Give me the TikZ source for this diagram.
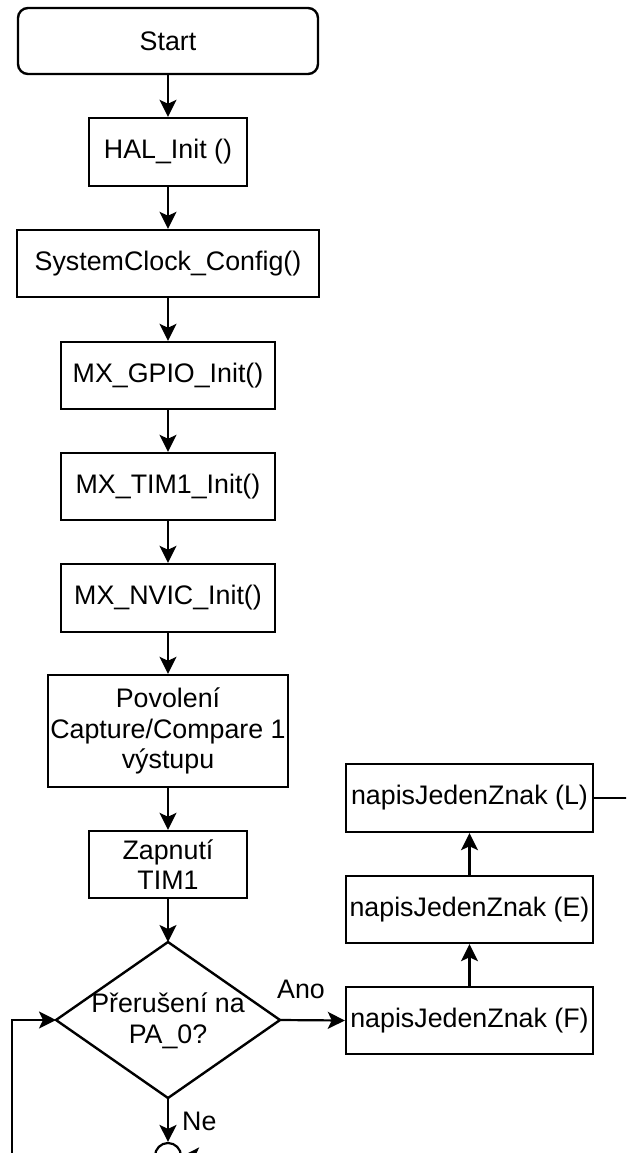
\documentclass[tikz,border=0pt]{standalone}
\usepackage{fontspec}
\setmainfont{Liberation Sans}
\usetikzlibrary{arrows.meta}
\newcommand\diafont{\fontsize{26.8}{30.5}\selectfont}
\tikzset{
  >={Stealth[length=17pt,width=17pt,inset=4pt]},
  block/.style={draw, line width=2.4pt, inner sep=2pt, align=center, font=\diafont},
  startbox/.style={block, rounded corners=10pt, minimum width=300pt, minimum height=66pt},
  conn/.style={line width=2.2pt},
  lbl/.style={font=\diafont, inner sep=0pt},
}
\begin{document}
\begin{tikzpicture}[x=1pt, y=-1pt]
  \useasboundingbox (0,0) rectangle (626,1153);
  \clip (0,0) rectangle (626,1153);

  % main sequence
  \node[startbox] (start) at (168,41) {Start};
  \node[block, minimum width=158pt, minimum height=68pt] (hal) at (168,152) {HAL\_Init ()};
  \node[block, minimum width=302pt, minimum height=67pt] (clk) at (168,263.5) {SystemClock\_Config()};
  \node[block, minimum width=214pt, minimum height=67pt] (gpio) at (168,375.5) {MX\_GPIO\_Init()};
  \node[block, minimum width=214pt, minimum height=67pt] (tim) at (168,486.5) {MX\_TIM1\_Init()};
  \node[block, minimum width=214pt, minimum height=68pt] (nvic) at (168,598) {MX\_NVIC\_Init()};
  \node[block, minimum width=240pt, minimum height=112pt] (pov) at (168,731) {Povolení\\Capture/Compare 1\\výstupu};
  \node[block, minimum width=158pt, minimum height=67pt] (zap) at (168,864.5) {Zapnutí\\TIM1};

  % decision
  \coordinate (dec-n) at (168,942);
  \coordinate (dec-e) at (280,1020);
  \coordinate (dec-s) at (168,1098);
  \coordinate (dec-w) at (56,1020);
  \draw[line width=2.4pt, line join=miter] (dec-n) -- (dec-e) -- (dec-s) -- (dec-w) -- cycle;
  \node[lbl, align=center] (dec) at (168,1021) {Přerušení na\\PA\_0?};

  % right column
  \node[block, minimum width=247pt, minimum height=67pt] (f) at (469.5,1020.5) {napisJedenZnak (F)};
  \node[block, minimum width=247pt, minimum height=67pt] (e) at (469.5,909.5) {napisJedenZnak (E)};
  \node[block, minimum width=247pt, minimum height=68pt] (l) at (469.5,798) {napisJedenZnak (L)};

  % merge point
  \node[draw, circle, line width=2.2pt, minimum size=26pt, inner sep=0pt] (merge) at (168,1156) {};
  \coordinate (lturn) at (660,798);
  \coordinate (loopc) at (12,1190);

  % connectors
  \draw[conn,->] (start) -- (hal);
  \draw[conn,->] (hal) -- (clk);
  \draw[conn,->] (clk) -- (gpio);
  \draw[conn,->] (gpio) -- (tim);
  \draw[conn,->] (tim) -- (nvic);
  \draw[conn,->] (nvic) -- (pov);
  \draw[conn,->] (pov) -- (zap);
  \draw[conn,->] (zap) -- (dec-n);
  \draw[conn,->] (dec-e) -- (f.west);
  \draw[conn,->] (f) -- (e);
  \draw[conn,->] (e) -- (l);
  \draw[conn,->] (dec-s) -- (merge.north);
  \draw[conn,->] (l.east) -- (lturn) |- (merge.east);
  \draw[conn,->] (merge.south) |- (loopc) |- (dec-w);

  % branch labels
  \node[lbl] (ano) at (301,989) {Ano};
  \node[lbl, anchor=west] (ne) at (182,1121) {Ne};
\end{tikzpicture}
\end{document}
